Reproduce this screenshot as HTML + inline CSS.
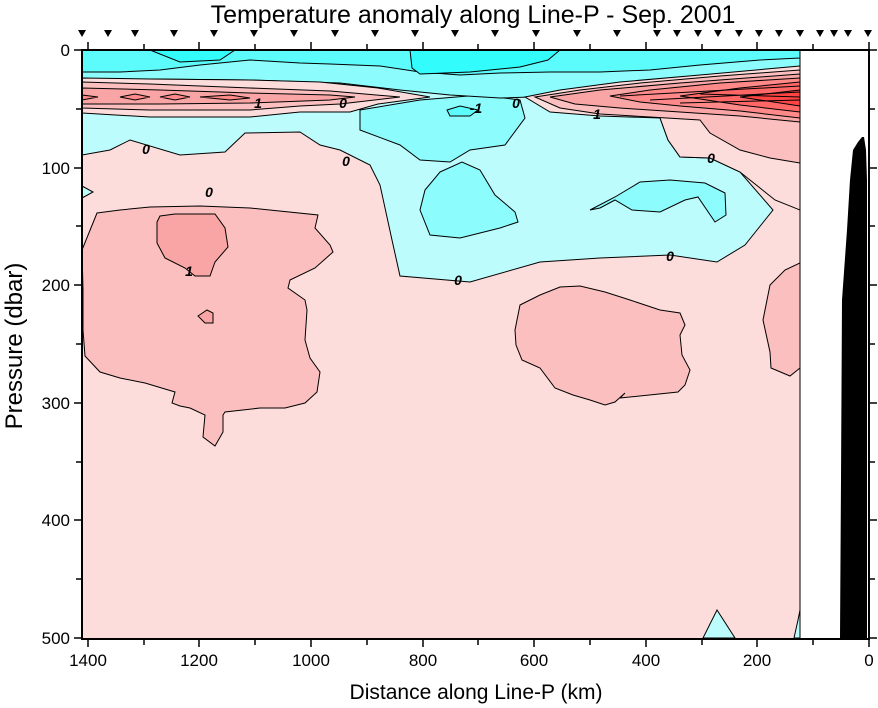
<!DOCTYPE html>
<html><head><meta charset="utf-8"><style>
html,body{margin:0;padding:0;background:#fff;width:878px;height:708px;overflow:hidden}
svg{display:block;font-family:"Liberation Sans",sans-serif}
</style></head><body>
<svg width="878" height="708" viewBox="0 0 878 708">
<defs><clipPath id="c"><rect x="82" y="50" width="718" height="588"/></clipPath></defs>
<text x="473" y="23" font-size="25" text-anchor="middle">Temperature anomaly along Line-P - Sep. 2001</text>
<g clip-path="url(#c)" stroke="#000" stroke-width="1">
<rect x="82" y="50" width="718" height="588" fill="#fddcdc" stroke="none"/>
<path fill="#bdfcfc" d="M82,50 L800,50 L800,70 L760,95 L700,118 L660,118 L668,140 L680,157 L710,158 L740,172 L773,210 L745,245 L717,262 L670,255 L600,258 L540,262 L470,282 L400,276 L392,240 L380,185 L370,165 L340,150 L320,145 L300,132 L245,133 L225,152 L180,155 L130,140 L110,150 L82,155 Z"/>
<path fill="#bdfcfc" d="M82,186 L93,192 L82,198 Z"/>
<path fill="#8cfcfc" d="M440,172 L462,162 L480,170 L495,195 L515,212 L518,222 L500,228 L460,238 L430,235 L420,210 L425,190 Z"/>
<path fill="#8cfcfc" d="M590,210 L615,197 L640,182 L670,180 L705,183 L725,193 L726,215 L715,222 L698,197 L685,200 L660,212 L632,210 L615,200 L600,208 Z"/>
<path fill="#8cfcfc" d="M360,110 L420,100 L480,95 L520,100 L525,118 L505,145 L470,150 L450,162 L420,160 L400,145 L360,130 Z"/>
<path fill="#5cfcfc" d="M447,110 L460,106 L478,110 L470,116 L450,116 Z"/>
<path fill="#8cfcfc" d="M82,50 L800,50 L800,75 L750,78 L700,82 L640,90 L560,96 L500,98 L450,95 L400,90 L340,83 L250,80 L150,79 L82,80 Z"/>
<path fill="#5cfcfc" d="M82,50 L800,50 L800,58 L760,60 L700,65 L650,70 L600,72 L550,72 L500,73 L460,75 L420,72 L380,66 L330,64 L300,63 L250,60 L200,65 L160,70 L120,72 L82,72 Z"/>
<path fill="#33fcfc" d="M150,50 L235,50 L220,60 L180,62 Z"/>
<path fill="#33fcfc" d="M410,50 L560,50 L548,60 L520,67 L470,72 L420,74 L412,68 Z"/>
<path fill="#fddcdc" d="M82,78 L150,79 L250,80 L320,82 L378,88 L430,97 L378,104 L350,112 L300,112 L250,117 L150,117 L82,113 Z"/>
<path fill="#fbbfbf" d="M82,82 L150,84 L250,88 L330,91 L400,97 L340,104 L300,106 L250,110 L150,110 L82,108 Z"/>
<path fill="#f9a5a5" d="M82,88 L160,90 L250,93 L330,95 L355,97 L330,100 L250,103 L160,104 L82,104 Z"/>
<path fill="#f88" d="M82,95 L98,97 L82,100 Z M120,97 L135,94 L150,97 L135,100 Z M160,97 L175,94 L190,97 L175,100 Z M200,97 L230,95 L250,98 L230,100 Z"/>
<path fill="#fddcdc" d="M525,97 L560,90 L620,82 L700,75 L800,66 L800,210 L775,200 L740,172 L710,158 L680,157 L668,140 L660,118 L600,116 L550,112 Z"/>
<path fill="#fbbfbf" d="M535,97 L580,90 L640,83 L720,76 L800,70 L800,163 L770,158 L740,150 L710,133 L700,120 L650,117 L600,114 L560,108 Z"/>
<path fill="#f9a5a5" d="M550,97 L600,90 L680,83 L800,74 L800,122 L740,116 L680,112 L620,108 L575,104 Z"/>
<path fill="#f88" d="M610,96 L650,90 L720,83 L800,78 L800,118 L740,111 L680,106 L640,102 Z"/>
<path fill="#f66" d="M680,96 L740,88 L800,82 L800,112 L740,105 Z"/>
<path fill="#f44" d="M740,97 L800,90 L800,106 Z"/>
<path fill="none" d="M620,96 L800,86 M650,100 L800,92 M680,103 L800,100 M700,94 L800,97"/>
<path fill="#fbbfbf" d="M97,213 L120,210 L150,207 L200,206 L250,208 L318,215 L315,228 L330,245 L333,252 L315,268 L290,280 L288,288 L305,300 L307,310 L305,340 L310,358 L320,372 L317,392 L305,403 L285,408 L260,408 L225,412 L223,415 L223,432 L215,446 L203,437 L205,415 L190,408 L180,406 L172,403 L175,392 L145,383 L120,378 L100,372 L85,356 L83,330 L83,290 L82,250 Z"/>
<path fill="#f9a5a5" d="M160,216 L175,214 L215,214 L225,228 L228,247 L215,262 L210,276 L195,276 L185,268 L165,258 L157,243 L157,222 Z"/>
<path fill="#f9a5a5" d="M198,316 L207,310 L213,313 L213,323 L205,323 Z"/>
<path fill="#fbbfbf" d="M520,305 L540,295 L560,287 L580,286 L605,292 L630,300 L660,310 L680,313 L685,325 L680,335 L682,355 L690,370 L685,385 L678,392 L620,398 L625,393 L615,402 L605,405 L590,400 L573,395 L555,388 L540,368 L522,360 L516,345 L515,330 Z"/>
<path fill="#fbbfbf" d="M800,263 L785,270 L770,285 L767,300 L763,320 L770,352 L771,368 L790,376 L800,368 Z"/>
<path fill="#bdfcfc" d="M703,638 L717,610 L735,638 Z"/>
<path fill="#bdfcfc" d="M794,638 L798,620 L800,610 L800,638 Z"/>
</g>
<g font-size="14" font-weight="bold" font-style="italic" text-anchor="middle">
<text x="258" y="108">1</text><text x="343" y="108">0</text><text x="146" y="154">0</text><text x="346" y="166">0</text>
<text x="209" y="197">0</text><text x="189" y="276">1</text><text x="476" y="113">-1</text><text x="516" y="108">0</text>
<text x="597" y="119">1</text><text x="711" y="163">0</text><text x="670" y="261">0</text><text x="458" y="285">0</text>
</g>
<rect x="800" y="50" width="69" height="588" fill="#fff"/>
<line x1="800" y1="50" x2="800" y2="638" stroke="#000"/>
<path d="M840,638 L841,480 L842,300 L847,230 L850,180 L853,150 L858,142 L862,137 L864,137 L866,150 L867,180 L867,638 Z" fill="#000"/>
<rect x="82" y="50" width="787" height="589" fill="none" stroke="#000" stroke-width="2"/>
<g stroke="#000" stroke-width="1.5">
<path d="M869,50v-8M813,50v-6M757,50v-8M702,50v-6M646,50v-8M590,50v-6M534,50v-8M478,50v-6M423,50v-8M367,50v-6M311,50v-8M255,50v-6M199,50v-8M144,50v-6M88,50v-8"/>
<path d="M869,639v8M813,639v6M757,639v8M702,639v6M646,639v8M590,639v6M534,639v8M478,639v6M423,639v8M367,639v6M311,639v8M255,639v6M199,639v8M144,639v6M88,639v8"/>
<path d="M82,50h-8M82,109h-6M82,168h-8M82,226h-6M82,285h-8M82,344h-6M82,403h-8M82,462h-6M82,520h-8M82,579h-6M82,638h-8"/>
<path d="M869,50h8M869,109h6M869,168h8M869,226h6M869,285h8M869,344h6M869,403h8M869,462h6M869,520h8M869,579h6M869,638h8"/>
</g>
<g font-size="17" text-anchor="end">
<text x="70" y="56">0</text><text x="70" y="174">100</text><text x="70" y="291">200</text><text x="70" y="409">300</text><text x="70" y="526">400</text><text x="70" y="644">500</text>
</g>
<g font-size="17" text-anchor="middle">
<text x="88" y="666">1400</text><text x="199" y="666">1200</text><text x="311" y="666">1000</text><text x="423" y="666">800</text><text x="534" y="666">600</text><text x="646" y="666">400</text><text x="757" y="666">200</text><text x="869" y="666">0</text>
</g>
<text x="476" y="699" font-size="21" text-anchor="middle">Distance along Line-P (km)</text>
<text transform="translate(22,346) rotate(-90)" font-size="24" text-anchor="middle">Pressure (dbar)</text>
<g fill="#000">
<path d="M78,30h8l-4,7zM104,30h8l-4,7zM131,30h8l-4,7zM170,30h8l-4,7zM210,30h8l-4,7zM250,30h8l-4,7zM290,30h8l-4,7zM331,30h8l-4,7zM371,30h8l-4,7zM411,30h8l-4,7zM451,30h8l-4,7zM491,30h8l-4,7zM532,30h8l-4,7zM573,30h8l-4,7zM613,30h8l-4,7zM653,30h8l-4,7zM673,30h8l-4,7zM694,30h8l-4,7zM714,30h8l-4,7zM735,30h8l-4,7zM755,30h8l-4,7zM775,30h8l-4,7zM796,30h8l-4,7zM816,30h8l-4,7zM830,30h8l-4,7zM844,30h8l-4,7zM864,30h8l-4,7z"/>
</g>
</svg>
</body></html>
